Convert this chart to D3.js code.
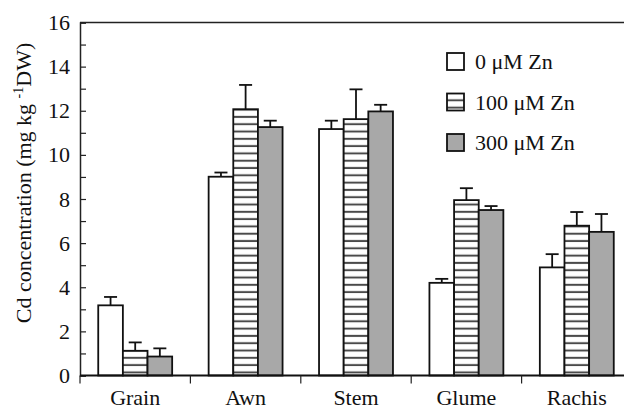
<!DOCTYPE html>
<html>
<head>
<meta charset="utf-8">
<script src="https://cdn.jsdelivr.net/npm/d3@7"></script>
<style>
  body { margin: 0; background: #fff; }
  text { font-family: "Liberation Serif", "Times New Roman", serif; fill: #111; }
</style>
</head>
<body>
<div id="chart"></div>
<script>
// data
const tissues = ['Grain', 'Awn', 'Stem', 'Glume', 'Rachis'];
const treatments = ['0 \u03BCM Zn', '100 \u03BCM Zn', '300 \u03BCM Zn'];
const zn0 = [3.18, 9.01, 11.17, 4.2, 4.9];
const zn100 = [1.12, 12.07, 11.62, 7.95, 6.79];
const zn300 = [0.86, 11.26, 11.97, 7.5, 6.51];
const err0 = [0.38, 0.19, 0.38, 0.18, 0.6];
const err100 = [0.38, 1.1, 1.35, 0.54, 0.62];
const err300 = [0.37, 0.29, 0.3, 0.18, 0.81];
const yTicks = [0, 2, 4, 6, 8, 10, 12, 14, 16];

const W = 624, H = 408;
const margin = { left: 80, top: 22.5, right: -8, bottom: 32.5 };
const innerW = W - margin.left - margin.right;
const innerH = H - margin.top - margin.bottom;

const svg = d3.select('#chart').append('svg')
    .attr('width', W).attr('height', H);

const defs = svg.append('defs');
const pat = defs.append('pattern')
    .attr('id', 'hatch')
    .attr('patternUnits', 'userSpaceOnUse')
    .attr('width', 8).attr('height', 7.3)
    .attr('y', margin.top + innerH);
pat.append('rect').attr('width', 8).attr('height', 7.3).attr('fill', '#fff');
pat.append('rect').attr('y', 2.6).attr('width', 8).attr('height', 2).attr('fill', '#4a4a4a');

const fills = ['#fff', 'url(#hatch)', '#a8a8a8'];
const values = [zn0, zn100, zn300];
const errs = [err0, err100, err300];

const g = svg.append('g').attr('transform', `translate(${margin.left},${margin.top})`);

const x0 = d3.scaleBand().domain(tissues).range([0, innerW]).padding(0);
const x1 = d3.scaleBand().domain(d3.range(3)).range([0, x0.bandwidth()])
    .paddingInner(0).paddingOuter(0.74);
const y = d3.scaleLinear().domain([0, 16]).range([innerH, 0]);

// frame top
g.append('line')
    .attr('x1', 0).attr('x2', innerW).attr('y1', 0).attr('y2', 0)
    .attr('stroke', '#222').attr('stroke-width', 1.5);

// bars
const groups = g.selectAll('.grp').data(tissues).enter().append('g')
    .attr('transform', d => `translate(${x0(d)},0)`);

groups.each(function (t, i) {
    const sel = d3.select(this);
    for (let s = 0; s < 3; s++) {
        const v = values[s][i], e = errs[s][i];
        const cx = x1(s) + x1.bandwidth() / 2;
        sel.append('line')
            .attr('x1', cx).attr('x2', cx)
            .attr('y1', y(v)).attr('y2', y(v + e))
            .attr('stroke', '#111').attr('stroke-width', 1.8);
        sel.append('line')
            .attr('x1', cx - 6.5).attr('x2', cx + 6.5)
            .attr('y1', y(v + e)).attr('y2', y(v + e))
            .attr('stroke', '#111').attr('stroke-width', 1.8);
        sel.append('rect')
            .attr('x', x1(s)).attr('width', x1.bandwidth())
            .attr('y', y(v)).attr('height', y(0) - y(v))
            .attr('fill', fills[s])
            .attr('stroke', '#111').attr('stroke-width', 1.8);
    }
});

// y axis
const yAxis = g.append('g')
    .call(d3.axisLeft(y).ticks(16).tickSize(-6).tickPadding(10)
        .tickFormat(d => yTicks.includes(d) ? d : ''));
yAxis.select('.domain').attr('stroke', '#222').attr('stroke-width', 1.5);
yAxis.selectAll('.tick line').attr('stroke', '#222').attr('stroke-width', 1.2);
yAxis.selectAll('text').style('font-size', '22px')
    .style('font-family', '"Liberation Serif", serif').attr('fill', '#111');

// x axis
const xAxis = g.append('g').attr('transform', `translate(0,${innerH})`);
xAxis.append('line').attr('x1', 0).attr('x2', innerW)
    .attr('stroke', '#111').attr('stroke-width', 2.2);
xAxis.selectAll('.sep').data(tissues).enter().append('line')
    .attr('x1', d => x0(d)).attr('x2', d => x0(d))
    .attr('y1', 0).attr('y2', 8)
    .attr('stroke', '#222').attr('stroke-width', 1.2);
xAxis.selectAll('.lab').data(tissues).enter().append('text')
    .attr('x', d => x0(d) + x0.bandwidth() / 2)
    .attr('y', 29)
    .attr('text-anchor', 'middle')
    .style('font-size', '22px')
    .text(d => d);

// y label
const yl = svg.append('text')
    .attr('transform', 'translate(31,183) rotate(-90)')
    .attr('text-anchor', 'middle')
    .style('font-size', '22px');
yl.append('tspan').text('Cd concentration (mg kg ');
yl.append('tspan').attr('dy', -8).style('font-size', '14px').text('-1');
yl.append('tspan').attr('dy', 8).text('DW)');

// legend
const legend = svg.append('g').attr('transform', 'translate(447,53)');
treatments.forEach((t, i) => {
    const lg = legend.append('g').attr('transform', `translate(0,${i * 40.5})`);
    lg.append('rect').attr('width', 17).attr('height', 17)
        .attr('fill', fills[i]).attr('stroke', '#111').attr('stroke-width', 1.8);
    lg.append('text').attr('x', 28).attr('y', 16)
        .style('font-size', '22px').text(t);
});
</script>
</body>
</html>
